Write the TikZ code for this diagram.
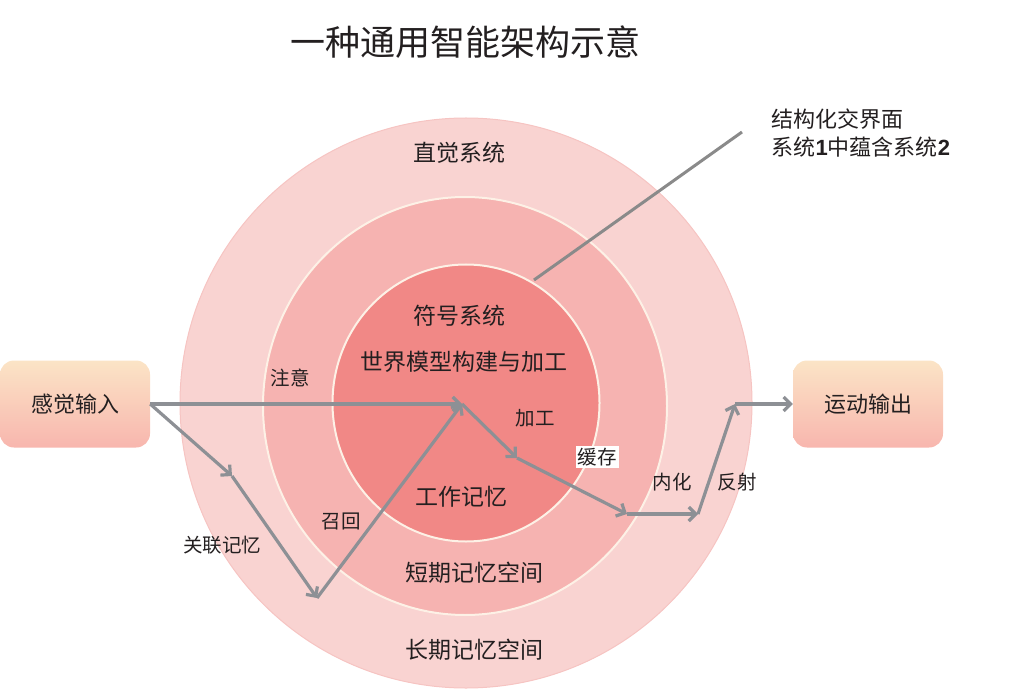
\documentclass[tikz,border=0pt]{standalone}
\usepackage{fontspec}
\setmainfont{Noto Sans CJK SC}
\newfontfamily\digitfont{Liberation Sans}
\usepackage{tikz}
\usetikzlibrary{arrows.meta,shapes.geometric}
\usepackage{xcolor}
\definecolor{LongTerm}{HTML}{F9D3D1}
\definecolor{LongTermEdge}{HTML}{F6C4C2}
\definecolor{ShortTerm}{HTML}{F6B3B1}
\definecolor{Working}{HTML}{F18886}
\definecolor{RingEdge}{HTML}{FDF1E6}
\definecolor{BoxTop}{HTML}{FBE4C6}
\definecolor{BoxBottom}{HTML}{F8B6AE}
\definecolor{FlowGray}{HTML}{8D9095}
\definecolor{NoteGray}{HTML}{8A8A8A}
\definecolor{LabelDark}{HTML}{231F20}
\tikzset{
  flowarrow/.style={-{Straight Barb[length=7pt,width=14pt]},line width=3.2pt,draw=FlowGray},
  noteline/.style={line width=3pt,draw=NoteGray},
  ring/.style={ellipse,inner sep=0pt,draw=RingEdge,line width=2pt},
  iobox/.style={rounded corners=14pt,top color=BoxTop,bottom color=BoxBottom,minimum width=150pt,minimum height=87pt,font=\fontsize{22}{26}\selectfont,text=LabelDark},
  region/.style={font=\fontsize{23}{28}\selectfont,text=LabelDark,inner sep=1pt},
  flowlabel/.style={font=\fontsize{19.5}{24}\selectfont,text=LabelDark,inner sep=1pt},
  note/.style={align=left,font=\fontsize{22}{28}\selectfont,text=LabelDark,anchor=west}
}

\begin{document}
\begin{tikzpicture}[x=1pt,y=-1pt]
  \useasboundingbox (0,0) rectangle (1032,692);
  % nested memory spaces
  \node[ring,draw=LongTermEdge,line width=1pt,fill=LongTerm,minimum width=572pt,minimum height=570pt] (ltm) at (466,403) {};
  \node[ring,fill=ShortTerm,minimum width=404pt,minimum height=418pt] (stm) at (465,406) {};
  \node[ring,fill=Working,minimum width=267pt,minimum height=277pt] (wm) at (466,403) {};

  \node[font=\fontsize{35}{40}\selectfont,text=LabelDark] (title) at (465,42) {一种通用智能架构示意};

  \node[region] (intuition) at (459,153) {直觉系统};
  \node[region] (symbolic) at (459,316) {符号系统};
  \node[region] (worldmodel) at (464,362) {世界模型构建与加工};
  \node[region] (working) at (461,497) {工作记忆};
  \node[region] (shortterm) at (474,573) {短期记忆空间};
  \node[region] (longterm) at (474,650) {长期记忆空间};

  \node[iobox] (sense) at (75,404) {感觉输入};
  \node[iobox] (motor) at (868,404) {运动输出};

  % interface note
  \node[note] (interface) at (768,133) {结构化交界面\\系统{\digitfont\bfseries 1}中蕴含系统{\digitfont\bfseries 2}};
  \coordinate (notestart) at (742,132);
  \coordinate (noteend) at (534,280);
  \draw[noteline] (notestart) -- (noteend);

  % flow
  \coordinate (hub) at (462,404);
  \coordinate (assoc) at (232,476);
  \coordinate (recall) at (317,598);
  \coordinate (proc) at (517,458);
  \coordinate (cache) at (627,514);
  \coordinate (intern) at (698,514);
  \coordinate (reflex) at (735,404);
  \draw[flowarrow] (sense.east) -- (hub);
  \draw[flowarrow] (sense.east) -- (assoc);
  \draw[flowarrow] (assoc) -- (recall);
  \draw[flowarrow] (recall) -- (hub);
  \draw[flowarrow] (hub) -- (proc);
  \draw[flowarrow] (proc) -- (cache);
  \draw[flowarrow] (cache) -- (intern);
  \draw[flowarrow] (intern) -- (reflex);
  \draw[flowarrow] (reflex) -- (motor.west);

  \node[flowlabel] (attend) at (290,378) {注意};
  \node[flowlabel] (assoclbl) at (222,545) {关联记忆};
  \node[flowlabel] (recalllbl) at (341,521) {召回};
  \node[flowlabel] (proclbl) at (535,418) {加工};
  \node[flowlabel,fill=white,inner sep=2pt] (cachelbl) at (597,457) {缓存};
  \node[flowlabel] (internlbl) at (672,482) {内化};
  \node[flowlabel] (reflexlbl) at (737,482) {反射};
\end{tikzpicture}
\end{document}
